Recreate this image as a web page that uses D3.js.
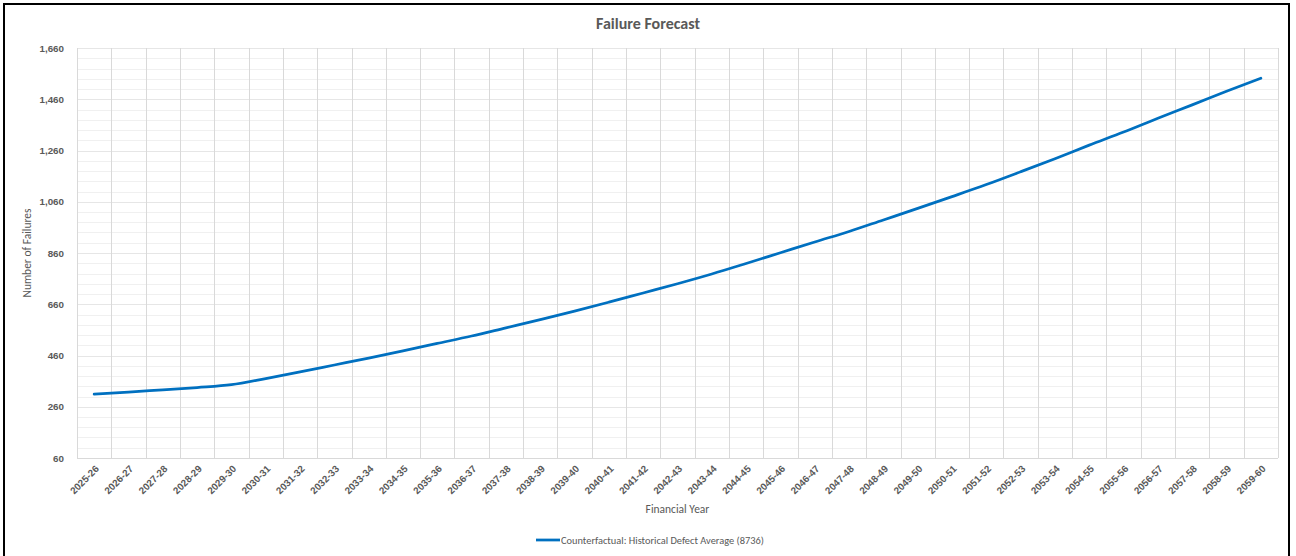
<!DOCTYPE html>
<html>
<head>
<meta charset="utf-8">
<script src="https://cdn.jsdelivr.net/npm/d3@7"></script>
<style>
  body { margin: 0; background: #fff; }
  svg { display: block; font-family: Calibri, Carlito, Lato, sans-serif; }
  .yLbl, .xLbl { fill: #595959; font-size: 9.8px; font-weight: bold; }
  .axisTitle { fill: #595959; font-size: 11.5px; }
  .title { fill: #595959; font-size: 16px; font-weight: bold; }
  .legendTxt { fill: #595959; font-size: 10.4px; }
</style>
</head>
<body>
<div class="chart"></div>
<script>
"use strict";

// Financial years on the x axis
var years = ["2025-26","2026-27","2027-28","2028-29","2029-30","2030-31","2031-32","2032-33",
  "2033-34","2034-35","2035-36","2036-37","2037-38","2038-39","2039-40","2040-41","2041-42",
  "2042-43","2043-44","2044-45","2045-46","2046-47","2047-48","2048-49","2049-50","2050-51",
  "2051-52","2052-53","2053-54","2054-55","2055-56","2056-57","2057-58","2058-59","2059-60"];

// Counterfactual series
var failures = [309, 317, 326, 335, 346, 370, 396, 423, 450, 478, 507, 536, 568, 600, 633,
  668, 704, 740, 778, 819, 861, 903, 944, 989, 1034, 1080, 1127, 1177, 1228, 1281, 1332,
  1386, 1438, 1491, 1542];

var seriesName = "Counterfactual: Historical Defect Average (8736)";
var yTicks = [60, 260, 460, 660, 860, 1060, 1260, 1460, 1660];
var yMinorStep = 40;

var width = 1296, height = 556;
var plot = { left: 77, right: 1278, top: 48, bottom: 458 };

var svg = d3.select(".chart").append("svg")
  .attr("width", width)
  .attr("height", height);

var x = d3.scaleBand().domain(years).range([plot.left, plot.right]);
var y = d3.scaleLinear().domain([yTicks[0], yTicks[yTicks.length - 1]]).range([plot.bottom, plot.top]);

//chart border
svg.append("rect")
  .attr("x", 4).attr("y", 4)
  .attr("width", 1285).attr("height", 580)
  .style("fill", "none")
  .style("stroke", "#000")
  .style("stroke-width", 2);

//title, centred on the chart area
svg.append("text").attr("class", "title")
  .attr("x", 648)
  .attr("y", 29)
  .style("text-anchor", "middle")
  .text("Failure Forecast");

//minor horizontal grid
var minorVals = d3.range(yTicks[0], yTicks[yTicks.length - 1] + 1, yMinorStep)
  .filter(function(d){ return yTicks.indexOf(d) === -1; });
svg.append("g").selectAll("line")
  .data(minorVals).enter().append("line")
  .attr("x1", plot.left).attr("x2", plot.right)
  .attr("y1", function(d){ return Math.round(y(d)) + 0.5; })
  .attr("y2", function(d){ return Math.round(y(d)) + 0.5; })
  .style("stroke", "#f0f0f0");

//major horizontal grid
svg.append("g").selectAll("line")
  .data(yTicks).enter().append("line")
  .attr("x1", plot.left).attr("x2", plot.right)
  .attr("y1", function(d){ return Math.round(y(d)) + 0.5; })
  .attr("y2", function(d){ return Math.round(y(d)) + 0.5; })
  .style("stroke", function(d, i){ return i === 0 ? "#d9d9d9" : "#e6e6e6"; });

//vertical grid on category boundaries
var bounds = years.map(function(d){ return x(d); }).concat([plot.right]);
svg.append("g").selectAll("line")
  .data(bounds).enter().append("line")
  .attr("x1", function(d){ return Math.round(d) + 0.5; })
  .attr("x2", function(d){ return Math.round(d) + 0.5; })
  .attr("y1", plot.top).attr("y2", plot.bottom)
  .style("stroke", "#d9d9d9");

//y axis labels
var yAxis = svg.append("g")
  .attr("transform", "translate(" + plot.left + ",0)")
  .call(d3.axisLeft(y).tickValues(yTicks).tickFormat(d3.format(",")).tickSize(0).tickPadding(13));
yAxis.select(".domain").remove();
yAxis.selectAll("text").attr("class", "yLbl").attr("font-family", null).attr("font-size", null).attr("fill", null);

//x axis labels
var xAxis = svg.append("g")
  .attr("transform", "translate(0," + plot.bottom + ")")
  .call(d3.axisBottom(x).tickSize(0));
xAxis.select(".domain").remove();
xAxis.selectAll("text")
  .attr("class", "xLbl")
  .attr("font-family", null).attr("font-size", null).attr("fill", null)
  .attr("x", 0).attr("y", 0).attr("dy", "0.35em")
  .attr("transform", "translate(3,9) rotate(-45)")
  .style("text-anchor", "end");

//axis titles
svg.append("text").attr("class", "axisTitle")
  .attr("transform", "translate(31," + (plot.top + plot.bottom) / 2 + ") rotate(-90)")
  .style("text-anchor", "middle")
  .text("Number of Failures");
svg.append("text").attr("class", "axisTitle")
  .attr("x", (plot.left + plot.right) / 2)
  .attr("y", 513)
  .style("text-anchor", "middle")
  .text("Financial Year");

//series line
var line = d3.line()
  .x(function(d, i){ return x(years[i]) + x.bandwidth() / 2; })
  .y(function(d){ return y(d); })
  .curve(d3.curveMonotoneX);
svg.append("path")
  .datum(failures)
  .attr("d", line)
  .style("fill", "none")
  .style("stroke", "#0070c0")
  .style("stroke-width", 2.75)
  .style("stroke-linecap", "round");

//legend
var legend = svg.append("g").attr("transform", "translate(536,540)");
legend.append("line")
  .attr("x1", 0).attr("x2", 24).attr("y1", 0).attr("y2", 0)
  .style("stroke", "#0070c0").style("stroke-width", 2.75);
legend.append("text").attr("class", "legendTxt")
  .attr("x", 25).attr("y", 0).attr("dy", "0.35em")
  .text(seriesName);
</script>
</body>
</html>
